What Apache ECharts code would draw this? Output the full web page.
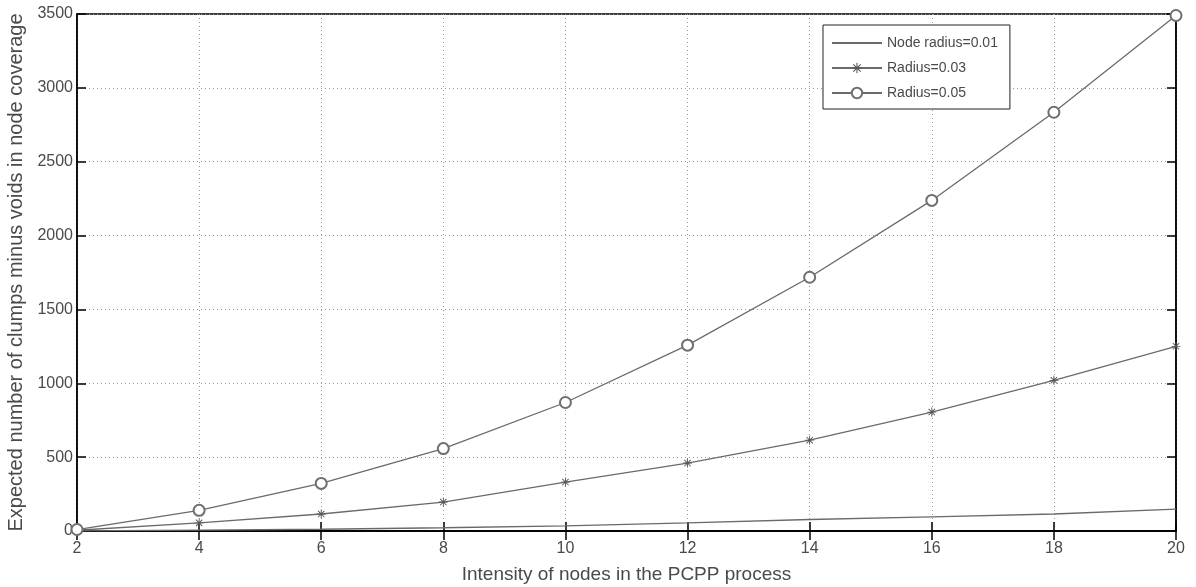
<!DOCTYPE html>
<html>
<head>
<meta charset="utf-8">
<script src="https://cdn.jsdelivr.net/npm/echarts@6/dist/echarts.min.js"></script>
<style>
html,body{margin:0;padding:0;background:#fff;}
#chart{width:1196px;height:587px;}
</style>
</head>
<body>
<div id="chart"></div>
<script>
// Node intensity values on the x axis
const intensity = [2, 4, 6, 8, 10, 12, 14, 16, 18, 20];
// Expected number of clumps minus voids for each node radius
const radius001 = [1, 6, 12, 22, 35, 55, 78, 95, 115, 148];
const radius003 = [5, 55, 115, 196, 331, 460, 615, 805, 1020, 1250];
const radius005 = [10, 140, 322, 558, 870, 1258, 1718, 2238, 2835, 3490];

const seriesNames = ['Node radius=0.01', 'Radius=0.03', 'Radius=0.05'];

const pairs = arr => intensity.map((x, i) => [x, arr[i]]);

// asterisk marker built from four thin bars
const asterisk = 'path://M-0.6,-6L0.6,-6L0.6,6L-0.6,6Z' +
  'M-6,-0.6L6,-0.6L6,0.6L-6,0.6Z' +
  'M-4.67,-3.82L-3.82,-4.67L4.67,3.82L3.82,4.67Z' +
  'M3.82,-4.67L4.67,-3.82L-3.82,4.67L-4.67,3.82Z';

const font = "'Liberation Sans Narrow', 'Liberation Sans', Arial, sans-serif";
const lineColor = '#6a6a6a';
const textColor = '#4a4a4a';

const chart = echarts.init(document.getElementById('chart'));

const gridLine = { show: true, lineStyle: { color: '#9a9a9a', type: [1, 3], width: 1 } };
const innerTick = { show: true, inside: true, length: 9, lineStyle: { color: '#000', width: 1.5 } };
const plain = v => String(v);

chart.setOption({
  animation: false,
  backgroundColor: '#fff',
  grid: {
    left: 77, right: 20, top: 14, bottom: 56,
    show: true, borderColor: '#000', borderWidth: 1.5,
    containLabel: false, outerBoundsMode: 'none'
  },
  legend: {
    orient: 'vertical',
    left: 823, top: 25,
    backgroundColor: '#fff',
    borderColor: '#222', borderWidth: 1,
    padding: [11, 12, 9, 8],
    itemGap: 11,
    itemWidth: 50, itemHeight: 13,
    textStyle: { fontFamily: font, fontSize: 14, color: textColor },
    data: [
      // plain line entry: hide the default legend symbol
      { name: seriesNames[0], itemStyle: { color: 'rgba(0,0,0,0)', borderWidth: 0 } },
      { name: seriesNames[1] },
      { name: seriesNames[2] }
    ]
  },
  xAxis: [{
    type: 'value', min: 2, max: 20, interval: 2,
    name: 'Intensity of nodes in the PCPP process',
    nameLocation: 'middle', nameGap: 34,
    nameTextStyle: { fontFamily: font, fontSize: 19, color: textColor },
    axisLine: { show: true, lineStyle: { color: '#000', width: 1.5 } },
    axisTick: innerTick,
    axisLabel: { fontFamily: font, fontSize: 16, color: textColor, margin: 10, formatter: plain },
    splitLine: gridLine
  }, {
    type: 'value', min: 2, max: 20, interval: 2, position: 'top',
    axisLine: { show: true, lineStyle: { color: '#000', width: 1.5 } },
    axisTick: innerTick, axisLabel: { show: false }, splitLine: { show: false }
  }],
  yAxis: [{
    type: 'value', min: 0, max: 3500, interval: 500,
    name: 'Expected number of clumps minus voids in node coverage',
    nameLocation: 'middle', nameGap: 48,
    nameTextStyle: { fontFamily: font, fontSize: 20, color: textColor },
    axisLine: { show: true, lineStyle: { color: '#000', width: 1.5 } },
    axisTick: innerTick,
    axisLabel: { fontFamily: font, fontSize: 16, color: textColor, margin: 4, formatter: plain },
    splitLine: gridLine
  }, {
    type: 'value', min: 0, max: 3500, interval: 500, position: 'right',
    axisLine: { show: true, lineStyle: { color: '#000', width: 1.5 } },
    axisTick: innerTick, axisLabel: { show: false }, splitLine: { show: false }
  }],
  series: [{
    name: seriesNames[0], type: 'line', data: pairs(radius001),
    symbol: 'none', showSymbol: false,
    lineStyle: { color: lineColor, width: 1.3 }, itemStyle: { color: lineColor }
  }, {
    name: seriesNames[1], type: 'line', data: pairs(radius003),
    symbol: asterisk, symbolSize: 9,
    lineStyle: { color: lineColor, width: 1.3 },
    itemStyle: { color: '#555' }
  }, {
    name: seriesNames[2], type: 'line', data: pairs(radius005),
    symbol: 'emptyCircle', symbolSize: 11,
    lineStyle: { color: lineColor, width: 1.3 },
    itemStyle: { color: '#6f6f6f', borderWidth: 1.4 }
  }]
});
</script>
</body>
</html>
